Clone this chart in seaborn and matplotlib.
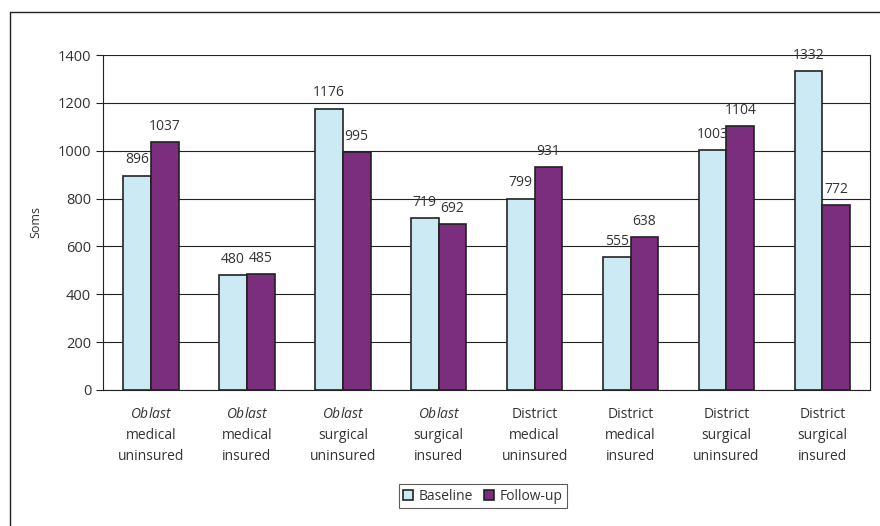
import pandas as pd
import seaborn as sns
import matplotlib.pyplot as plt
from matplotlib.lines import Line2D

CATEGORIAS = [
    "$\\mathit{Oblast}$\nmedical\nuninsured",
    "$\\mathit{Oblast}$\nmedical\ninsured",
    "$\\mathit{Oblast}$\nsurgical\nuninsured",
    "$\\mathit{Oblast}$\nsurgical\ninsured",
    "District\nmedical\nuninsured",
    "District\nmedical\ninsured",
    "District\nsurgical\nuninsured",
    "District\nsurgical\ninsured",
]
BASELINE = [896, 480, 1176, 719, 799, 555, 1003, 1332]
FOLLOW_UP = [1037, 485, 995, 692, 931, 638, 1104, 772]
SERIES = ["Baseline", "Follow-up"]
CORES = ["#CCEAF4", "#7B2D7E"]
Y_TICKS = [0, 200, 400, 600, 800, 1000, 1200, 1400]

sns.set_theme(style="white")
plt.rcParams['font.family'] = ['Open Sans', 'DejaVu Sans']
plt.rcParams['mathtext.fontset'] = 'custom'
plt.rcParams['mathtext.it'] = 'Open Sans:italic'
plt.rcParams['mathtext.rm'] = 'Open Sans'

df = pd.DataFrame({
    'cat': CATEGORIAS * 2,
    'valor': BASELINE + FOLLOW_UP,
    'serie': [SERIES[0]] * len(BASELINE) + [SERIES[1]] * len(FOLLOW_UP),
})

fig = plt.figure(figsize=(8.8, 5.26), dpi=100)
ax = fig.add_axes([0.117, 0.2586, 0.872, 0.6368])

sns.barplot(data=df, x='cat', y='valor', hue='serie', palette=CORES,
            width=0.58, edgecolor='#222222', linewidth=1.2, ax=ax,
            legend=True, saturation=1)

for container in ax.containers:
    ax.bar_label(container, fmt='%d', padding=6, fontsize=10, color='#333333')

ax.set_ylim(0, 1400)
ax.set_yticks(Y_TICKS)
ax.set_xlim(-0.5, len(CATEGORIAS) - 0.5)
ax.yaxis.grid(True, color='#222222', linewidth=0.8)
ax.set_axisbelow(True)
for s in ['left', 'bottom', 'right']:
    ax.spines[s].set_visible(True)
    ax.spines[s].set_color('#222222')
    ax.spines[s].set_linewidth(0.8)
ax.spines['top'].set_visible(False)

# ticks entre categorias no eixo x
ax.set_xticks([i + 0.5 for i in range(-1, len(CATEGORIAS))], minor=True)
ax.tick_params(axis='x', which='minor', length=5, color='#222222', width=0.8, direction='out')
ax.tick_params(axis='x', which='major', length=0, labelsize=10, pad=12, labelcolor='#333333')
for lbl in ax.get_xticklabels():
    lbl.set_linespacing(1.55)
ax.tick_params(axis='y', length=5, color='#222222', width=0.8, direction='out',
               labelsize=10.5, labelcolor='#333333', left=True)
ax.set_xlabel('')
ax.set_ylabel('Soms', fontsize=9, color='#333333', labelpad=11)

leg = ax.legend(loc='center', bbox_to_anchor=(483 / 880, 1 - 496 / 526),
                bbox_transform=fig.transFigure, ncol=2, frameon=True,
                fancybox=False, edgecolor='#333333', fontsize=10,
                handlelength=0.7, handleheight=0.7, handletextpad=0.4,
                columnspacing=0.8, borderpad=0.3)
leg.get_frame().set_linewidth(0.8)
for t in leg.get_texts():
    t.set_color('#333333')

# moldura externa
fig.add_artist(Line2D([10 / 880, 10 / 880], [0, 1 - 12 / 526], transform=fig.transFigure,
                      color='#222222', linewidth=1))
fig.add_artist(Line2D([10 / 880, 1], [1 - 12 / 526, 1 - 12 / 526], transform=fig.transFigure,
                      color='#222222', linewidth=1))

fig.savefig('out.png', dpi=100)
